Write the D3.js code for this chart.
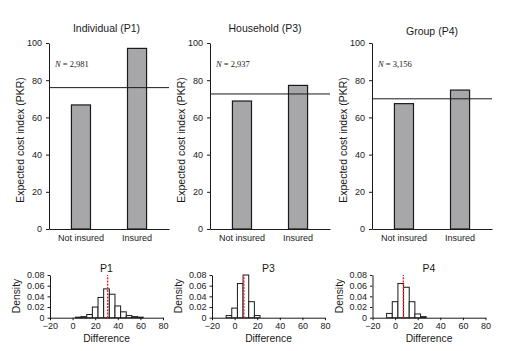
<!DOCTYPE html>
<html><head><meta charset="utf-8">
<script src="https://cdn.jsdelivr.net/npm/d3@7/dist/d3.min.js"></script>
<style>
body{margin:0;background:#fff;}
svg{display:block;font-family:"Liberation Sans",Arial,sans-serif;}
</style></head>
<body><svg id="c" width="520" height="351"></svg>
<script>
// ---- data ----
const categories = ["Not insured", "Insured"];
const panelTitles = ["Individual (P1)", "Household (P3)", "Group (P4)"];
const notInsured = [66.7, 68.8, 67.4];
const insured = [97.1, 77.2, 74.7];
const overallMean = [76.0, 72.6, 70.0];
const sampleN = ["2,981", "2,937", "3,156"];
const yTicks = [0, 20, 40, 60, 80, 100];

const histTitles = ["P1", "P3", "P4"];
const binWidth = 5;
const p1BinStarts = [2.5, 7.5, 12.5, 17.5, 22.5, 27.5, 32.5, 37.5, 42.5, 47.5, 52.5, 57.5];
const p1Density = [0.001, 0.002, 0.006, 0.020, 0.038, 0.054, 0.044, 0.022, 0.011, 0.004, 0.002, 0.001];
const p3BinStarts = [-7.5, -2.5, 2.5, 7.5, 12.5, 17.5];
const p3Density = [0.004, 0.018, 0.064, 0.080, 0.030, 0.004];
const p4BinStarts = [-7.5, -2.5, 2.5, 7.5, 12.5, 17.5, 22.5];
const p4Density = [0.008, 0.030, 0.064, 0.057, 0.030, 0.007, 0.002];
const meanDiff = [31.0, 8.2, 7.3];
const diffTicks = [-20, 0, 20, 40, 60, 80];
const densTicks = [0, 0.02, 0.04, 0.06, 0.08];

// ---- layout ----
const svg = d3.select("#c");
const topLeft = [49, 210, 372];
const topWidth = 120;
const titleX = [106.5, 265, 432];
const titleY = [32, 32, 35];
const botLeft = [50, 212, 372.5];
const botWidth = 113;
const ink = "#1a1a1a";

const yTop = d3.scaleLinear().domain([0, 100]).range([229, 43]);
const yBot = d3.scaleLinear().domain([0, 0.08]).range([317.7, 275]);

const histBins = [p1BinStarts, p3BinStarts, p4BinStarts];
const histDens = [p1Density, p3Density, p4Density];

function styleAxis(g, fs) {
  g.selectAll("path,line").attr("stroke", ink).attr("stroke-width", 1);
  g.selectAll("text").attr("fill", ink).style("font-size", fs + "px")
    .style("font-family", '"Liberation Sans",Arial,sans-serif');
}

for (let i = 0; i < 3; i++) {
  // ---------- top bar panel ----------
  const x0 = topLeft[i];
  const xb = d3.scaleBand().domain(categories).range([x0, x0 + topWidth])
    .paddingInner(0.66).paddingOuter(0.4);
  const vals = [notInsured[i], insured[i]];

  const gy = svg.append("g").attr("transform", `translate(${x0},0)`)
    .call(d3.axisLeft(yTop).tickValues(yTicks).tickSize(3).tickSizeOuter(0).tickPadding(4));
  styleAxis(gy, 9);

  const gx = svg.append("g").attr("transform", `translate(0,229)`)
    .call(d3.axisBottom(xb).tickSize(0).tickPadding(6));
  styleAxis(gx, 9);

  svg.append("g").selectAll("rect").data(categories).join("rect")
    .attr("x", d => xb(d)).attr("width", xb.bandwidth())
    .attr("y", (d, j) => yTop(vals[j]))
    .attr("height", (d, j) => yTop(0) - yTop(vals[j]))
    .attr("fill", "#a7a7aa").attr("stroke", ink).attr("stroke-width", 1.2);

  svg.append("line")
    .attr("x1", x0).attr("x2", x0 + topWidth)
    .attr("y1", yTop(overallMean[i])).attr("y2", yTop(overallMean[i]))
    .attr("stroke", ink).attr("stroke-width", 1);

  const nt = svg.append("text").attr("x", x0 + 6).attr("y", 66.5)
    .style("font-family", '"Liberation Serif","Times New Roman",serif')
    .style("font-size", "8.5px").attr("fill", ink);
  nt.append("tspan").style("font-style", "italic").text("N");
  nt.append("tspan").text(" = " + sampleN[i]);

  svg.append("text").attr("x", titleX[i]).attr("y", titleY[i])
    .attr("text-anchor", "middle").style("font-size", "10.5px").attr("fill", ink)
    .text(panelTitles[i]);

  svg.append("text")
    .attr("transform", `translate(${x0 - 25},140) rotate(-90)`)
    .attr("text-anchor", "middle").style("font-size", "10.5px").attr("fill", ink)
    .text("Expected cost index (PKR)");

  // ---------- bottom histogram ----------
  const bx0 = botLeft[i];
  const xh = d3.scaleLinear().domain([-20, 80]).range([bx0, bx0 + botWidth]);

  const hy = svg.append("g").attr("transform", `translate(${bx0},0)`)
    .call(d3.axisLeft(yBot).tickValues(densTicks).tickSize(2.5).tickSizeOuter(0).tickPadding(3)
      .tickFormat(d => d === 0 ? "0" : d3.format(".2f")(d)));
  styleAxis(hy, 9);

  const hx = svg.append("g").attr("transform", `translate(0,${yBot(0)})`)
    .call(d3.axisBottom(xh).tickValues(diffTicks).tickSize(2.5).tickSizeOuter(0).tickPadding(2)
      .tickFormat(d => d < 0 ? "\u2212" + Math.abs(d) : d));
  styleAxis(hx, 9);

  svg.append("g").selectAll("rect").data(histBins[i]).join("rect")
    .attr("x", d => xh(d)).attr("width", d => xh(d + binWidth) - xh(d))
    .attr("y", (d, j) => yBot(histDens[i][j]))
    .attr("height", (d, j) => yBot(0) - yBot(histDens[i][j]))
    .attr("fill", "#fff").attr("stroke", ink).attr("stroke-width", 1);

  svg.append("line")
    .attr("x1", xh(meanDiff[i])).attr("x2", xh(meanDiff[i]))
    .attr("y1", yBot(0)).attr("y2", yBot(0.08))
    .attr("stroke", "#e3262e").attr("stroke-width", 1.4).attr("stroke-dasharray", "2,1.2");

  svg.append("text").attr("x", xh(30)).attr("y", 271.5)
    .attr("text-anchor", "middle").style("font-size", "10.5px").attr("fill", ink)
    .text(histTitles[i]);

  svg.append("text").attr("x", xh(30)).attr("y", 342)
    .attr("text-anchor", "middle").style("font-size", "10.3px").attr("fill", ink)
    .text("Difference");

  svg.append("text")
    .attr("transform", `translate(${bx0 - 30},296) rotate(-90)`)
    .attr("text-anchor", "middle").style("font-size", "10.3px").attr("fill", ink)
    .text("Density");
}
</script></body></html>
